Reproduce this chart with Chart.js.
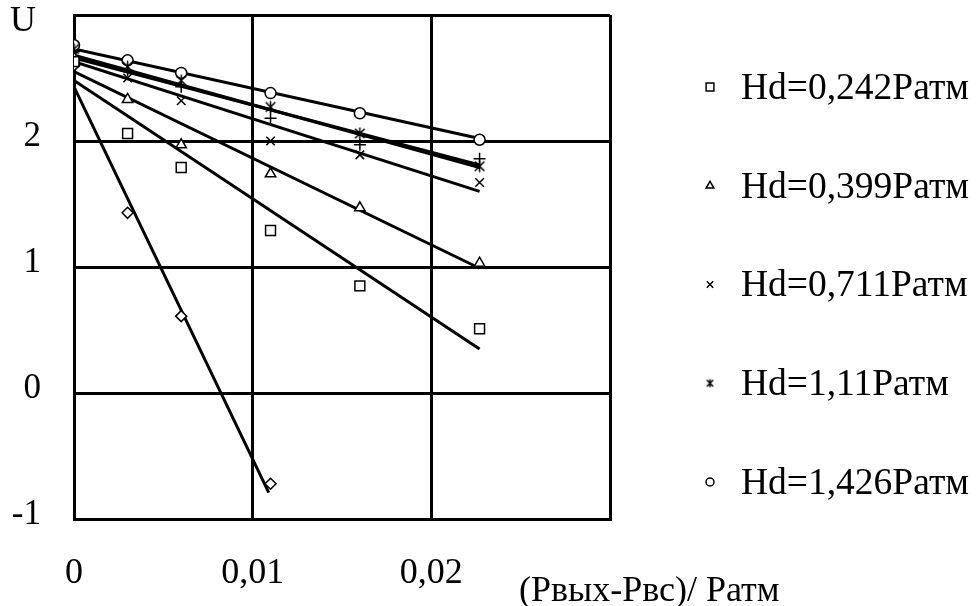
<!DOCTYPE html>
<html>
<head>
<meta charset="utf-8">
<script src="https://cdn.jsdelivr.net/npm/chart.js@4.4.1/dist/chart.umd.min.js"></script>
<style>
  html, body { margin: 0; padding: 0; background: #fff; }
  #wrap { width: 977px; height: 606px; }
</style>
</head>
<body>
<div id="wrap"><canvas id="uChart" width="977" height="606"></canvas></div>
<script>
// measured points, x = (Pвых-Pвс)/Pатм
const pressure = [0, 0.003, 0.006, 0.011, 0.016, 0.0227];
const pressureShort = [0, 0.003, 0.006, 0.011];

const uHd0242 = [2.63, 2.06, 1.79, 1.29, 0.85, 0.51];
const uHd0399 = [2.66, 2.33, 1.97, 1.74, 1.47, 1.03];
const uHd0711 = [2.68, 2.50, 2.32, 2.00, 1.89, 1.67];
const uHd111 = [2.73, 2.59, 2.48, 2.27, 2.06, 1.80];
const uHd1426 = [2.76, 2.64, 2.54, 2.38, 2.22, 2.01];
// extra series without legend entries
const uPlus = [2.71, 2.56, 2.43, 2.18, 1.97, 1.86];
const uDiamond = [2.60, 1.43, 0.61, -0.72];

// trend lines (start / end values)
const fitX = [0, 0.0227];
const fitXShort = [0, 0.0109];
const fitHd0242 = [2.48, 0.35];
const fitHd0399 = [2.55, 0.99];
const fitHd0711 = [2.63, 1.60];
const fitHd111 = [2.68, 1.79];
const fitHd1426 = [2.73, 2.02];
const fitPlus = [2.66, 1.81];
const fitDiamond = [2.43, -0.79];

const legendLabels = ['Hd=0,242Ратм', 'Hd=0,399Ратм', 'Hd=0,711Ратм', 'Hd=1,11Ратм', 'Hd=1,426Ратм'];
const xTicks = [0, 0.01, 0.02, 0.03];
const yTicks = [-1, 0, 1, 2, 3];
const xCaption = '(Рвых-Рвс)/ Ратм';
const yCaption = 'U';

const FONT = '"Liberation Serif", "Times New Roman", serif';

// asterisk marker: an x with a vertical bar
function asteriskMarker(size, lw) {
    const c = document.createElement('canvas');
    c.width = size; c.height = size;
    const g = c.getContext('2d');
    const m = size / 2, r = size / 2 - 1.5;
    g.strokeStyle = '#000';
    g.lineWidth = lw;
    g.beginPath();
    g.moveTo(m - r * 0.8, m - r * 0.8); g.lineTo(m + r * 0.8, m + r * 0.8);
    g.moveTo(m + r * 0.8, m - r * 0.8); g.lineTo(m - r * 0.8, m + r * 0.8);
    g.moveTo(m, m - r); g.lineTo(m, m + r);
    g.stroke();
    return c;
}
const asteriskBig = asteriskMarker(15, 1.5);
const asteriskSmall = asteriskMarker(11, 1.5);

const markerStyles = ['rect', 'triangle', 'crossRot', asteriskSmall, 'circle'];
const legendRadius = [5.5, 4.5, 4.5, 4.5, 4];

const toPoints = (xs, ys) => xs.map((x, i) => ({ x: x, y: ys[i] }));

function markers(xs, ys, style, radius) {
    return {
        type: 'scatter',
        data: toPoints(xs, ys),
        showLine: false,
        pointStyle: style,
        pointRadius: radius,
        pointBorderColor: '#000',
        pointBackgroundColor: '#fff',
        pointBorderWidth: 1.5,
        order: 0
    };
}

function trend(xs, ys) {
    return {
        type: 'line',
        data: toPoints(xs, ys),
        borderColor: '#000',
        borderWidth: 3,
        pointRadius: 0,
        fill: false,
        order: 1
    };
}

// legend on the right + axis captions
const sideLegend = {
    id: 'sideLegend',
    afterDraw(chart) {
        const ctx = chart.ctx;
        ctx.save();
        legendLabels.forEach((label, i) => {
            const y = 87 + i * 98.75;
            ctx.strokeStyle = '#000';
            ctx.fillStyle = '#fff';
            ctx.lineWidth = 1.5;
            Chart.helpers.drawPoint(ctx, {
                pointStyle: markerStyles[i], radius: legendRadius[i], borderWidth: 1.5, rotation: 0
            }, 710, y);
            ctx.fillStyle = '#000';
            ctx.font = '37.5px ' + FONT;
            ctx.textBaseline = 'middle';
            ctx.textAlign = 'left';
            ctx.fillText(label, 741, y + 2);
        });
        ctx.fillStyle = '#000';
        ctx.textBaseline = 'middle';
        ctx.font = '36px ' + FONT;
        ctx.textAlign = 'left';
        ctx.fillText(xCaption, 519, 592);
        ctx.font = '36px ' + FONT;
        ctx.textAlign = 'center';
        ctx.fillText(yCaption, 23, 22);
        ctx.restore();
    }
};

new Chart(document.getElementById('uChart').getContext('2d'), {
    data: {
        datasets: [
            markers(pressure, uHd0242, 'rect', 7),
            markers(pressure, uHd0399, 'triangle', 6),
            markers(pressure, uHd0711, 'crossRot', 6),
            markers(pressure, uHd111, asteriskBig, 6),
            markers(pressure, uHd1426, 'circle', 5.5),
            markers(pressure, uPlus, 'cross', 6),
            markers(pressureShort, uDiamond, 'rectRot', 5.5),
            trend(fitX, fitHd0242),
            trend(fitX, fitHd0399),
            trend(fitX, fitHd0711),
            trend(fitX, fitHd111),
            trend(fitX, fitHd1426),
            trend(fitX, fitPlus),
            trend(fitXShort, fitDiamond)
        ]
    },
    options: {
        responsive: false,
        devicePixelRatio: 1,
        animation: false,
        events: [],
        layout: { padding: { left: 0, right: 367, top: 15, bottom: 0 } },
        plugins: {
            legend: { display: false },
            tooltip: { enabled: false }
        },
        scales: {
            x: {
                type: 'linear',
                min: 0,
                max: 0.03,
                afterBuildTicks: (scale) => { scale.ticks = xTicks.map(v => ({ value: v })); },
                afterFit: (scale) => {
                    scale.height = 87;
                    scale.paddingLeft = 0;
                    scale.paddingRight = 0;
                },
                grid: { color: '#000', lineWidth: 3, drawTicks: false },
                border: { display: true, color: '#000', width: 3 },
                ticks: {
                    color: '#000',
                    padding: 33,
                    maxRotation: 0,
                    font: { family: FONT, size: 36 },
                    callback: (v) => {
                        if (Math.abs(v - 0.03) < 1e-9) return '';
                        return v === 0 ? '0' : v.toFixed(2).replace('.', ',');
                    }
                }
            },
            y: {
                type: 'linear',
                min: -1,
                max: 3,
                afterBuildTicks: (scale) => { scale.ticks = yTicks.map(v => ({ value: v })); },
                afterFit: (scale) => {
                    scale.width = 74;
                    scale.paddingTop = 0;
                    scale.paddingBottom = 0;
                },
                grid: { color: '#000', lineWidth: 3, drawTicks: false },
                border: { display: true, color: '#000', width: 3 },
                ticks: {
                    color: '#000',
                    padding: 33,
                    labelOffset: -4,
                    font: { family: FONT, size: 35 },
                    callback: (v) => (v === 3 ? '' : String(v))
                }
            }
        }
    },
    plugins: [sideLegend]
});
</script>
</body>
</html>
